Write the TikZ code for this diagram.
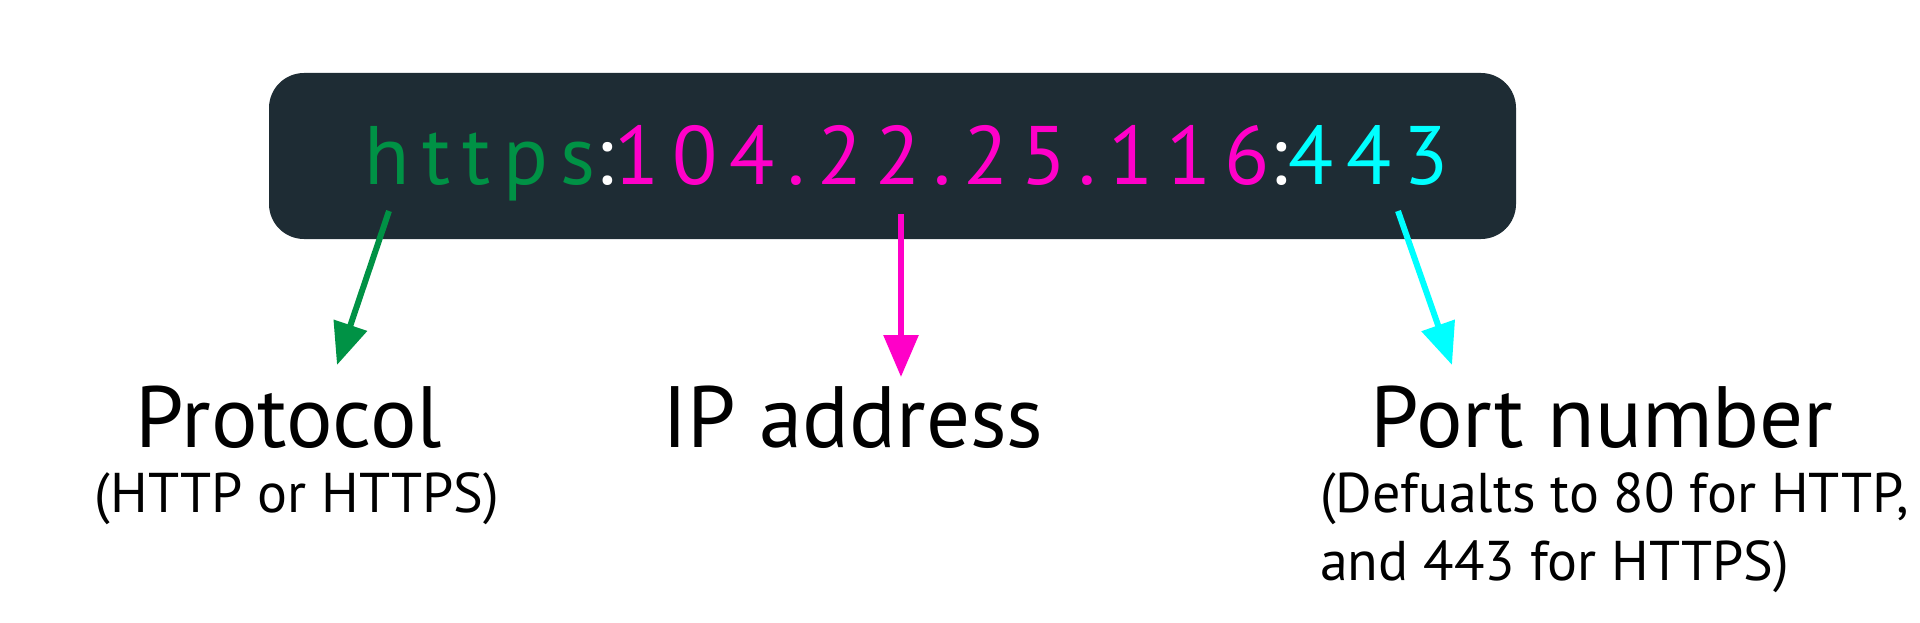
\documentclass[tikz,border=0pt]{standalone}
\usepackage{fontspec}
\setmainfont{PT Sans}
\newfontfamily\codefont[LetterSpace=15]{PT Sans}
\usetikzlibrary{arrows.meta,positioning}
\definecolor{urlbg}{RGB}{30,44,52}
\definecolor{protogreen}{RGB}{0,146,69}
\definecolor{ipmagenta}{RGB}{255,0,200}
\definecolor{portcyan}{RGB}{0,255,255}
\tikzset{
  part/.style={inner sep=0pt, anchor=base west, font=\codefont\fontsize{83}{83}\selectfont},
  pointer/.style={line width=6pt, -{Triangle[width=34pt,length=42pt]}},
  title/.style={inner sep=0pt, anchor=base, font=\fontsize{87}{90}\selectfont},
  note/.style={inner sep=0pt, anchor=base, font=\fontsize{56}{64}\selectfont}
}
\begin{document}
\begin{tikzpicture}[x=1pt,y=-1pt]
\useasboundingbox (0,0) rectangle (1920,623);
% the address bar
\fill[urlbg, rounded corners=35pt] (269,73) rectangle (1516,239);
\node[part, text=protogreen] (proto) at (364,184) {https};
\node[part, text=white] (colonA) at (proto.base east) {:};
\node[part, text=ipmagenta] (ip) at (colonA.base east) {104.22.25.116};
\node[part, text=white] (colonB) at (ip.base east) {:};
\node[part, text=portcyan] (port) at (colonB.base east) {443};
% labels
\node[title] (protocol) at (289,447) {Protocol};
\node[note] (protonote) at (297,512) {(HTTP or HTTPS)};
\node[title] (ipaddr) at (853,447) {IP address};
\node[title] (portnum) at (1602,447) {Port number};
\node[note, anchor=base west] (portnote) at (1320,512) {(Defualts to 80 for HTTP,};
\node[note, anchor=base west] (portnoteb) at (1320,580) {and 443 for HTTPS)};
% pointers
\coordinate (protoTail) at (389,211);
\coordinate (protoTip) at (337,365);
\coordinate (ipTail) at (901,214);
\coordinate (ipTip) at (901,377);
\coordinate (portTail) at (1398,211);
\coordinate (portTip) at (1452,365);
\draw[pointer, protogreen] (protoTail) -- (protoTip);
\draw[pointer, ipmagenta] (ipTail) -- (ipTip);
\draw[pointer, portcyan] (portTail) -- (portTip);
\end{tikzpicture}
\end{document}
